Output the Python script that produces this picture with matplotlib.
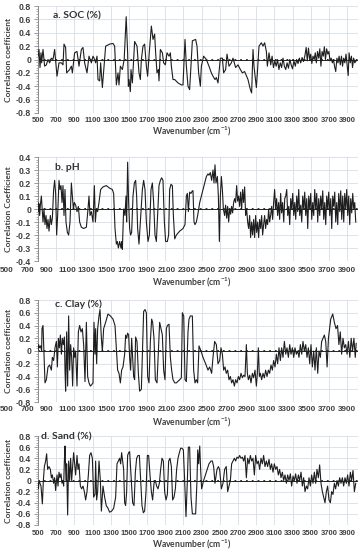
import matplotlib.pyplot as plt
from matplotlib.ticker import MultipleLocator, AutoMinorLocator, FuncFormatter

# wavenumber (cm-1) / correlation coefficient
soc_wn = [500, 511, 522, 533, 540, 555, 573, 592, 610, 628, 647, 665, 683, 709, 731, 757, 775, 786, 804, 815,
          848, 867, 878, 903, 929, 951, 977, 995, 1013, 1039, 1061, 1087, 1105, 1123, 1134, 1149, 1160, 1178, 1189, 1208,
          1244, 1288, 1325, 1343, 1362, 1380, 1391, 1406, 1428, 1448, 1470, 1486, 1494, 1501, 1516, 1523, 1538, 1563, 1589, 1611,
          1626, 1637, 1655, 1673, 1692, 1706, 1721, 1747, 1765, 1783, 1794, 1809, 1824, 1831, 1846, 1868, 1882, 1901, 1919, 1941,
          1956, 1967, 1985, 2004, 2040, 2077, 2095, 2117, 2132, 2150, 2168, 2198, 2234, 2249, 2267, 2286, 2297, 2322, 2352, 2381,
          2407, 2425, 2447, 2462, 2480, 2506, 2528, 2542, 2564, 2579, 2601, 2627, 2645, 2674, 2700, 2726, 2748, 2773, 2810, 2836,
          2850, 2865, 2876, 2902, 2913, 2931, 2957, 2975, 2993, 3012, 3023, 3041, 3060, 3075, 3090, 3105, 3120, 3135, 3150, 3165,
          3180, 3195, 3210, 3225, 3240, 3255, 3270, 3285, 3300, 3315, 3330, 3345, 3360, 3375, 3390, 3405, 3420, 3435, 3450, 3462,
          3475, 3488, 3500, 3512, 3525, 3538, 3550, 3562, 3575, 3588, 3600, 3612, 3625, 3638, 3650, 3662, 3675, 3688, 3700, 3712,
          3725, 3738, 3750, 3762, 3775, 3788, 3800, 3812, 3825, 3838, 3850, 3862, 3875, 3888, 3900, 3912, 3922, 3935, 3948, 3960,
          3972, 3985, 4000]
soc_r = [0.05, 0.15, -0.12, 0.10, -0.05, 0.15, -0.10, -0.08, 0.00, -0.05, 0.02, 0.00, 0.15, -0.25, -0.05, -0.05, -0.08, 0.23, 0.18, -0.20,
         -0.15, -0.10, -0.20, 0.10, 0.12, -0.10, 0.15, 0.18, -0.05, -0.20, 0.05, -0.05, 0.05, 0.00, -0.05, 0.05, -0.30, -0.32, -0.05, -0.42,
         0.20, 0.23, 0.24, 0.20, -0.38, -0.20, -0.38, -0.10, -0.15, 0.00, 0.64, 0.10, -0.40, -0.30, -0.48, -0.15, -0.35, 0.27, 0.20, -0.20,
         -0.30, 0.00, 0.20, 0.23, -0.10, -0.25, 0.05, 0.50, 0.30, 0.38, 0.10, -0.20, -0.15, -0.32, 0.15, 0.10, -0.05, -0.08, 0.10, 0.05,
         0.10, -0.10, -0.30, -0.30, -0.35, -0.38, -0.38, 0.30, -0.10, -0.40, -0.45, 0.28, 0.30, 0.20, -0.20, -0.40, -0.10, 0.05, 0.00, -0.10,
         -0.20, -0.25, -0.30, -0.27, -0.35, 0.02, 0.02, -0.20, -0.15, 0.08, -0.10, -0.05, 0.02, -0.12, -0.08, -0.15, -0.20, -0.18, -0.30, -0.45,
         -0.50, 0.15, -0.10, -0.42, -0.20, 0.20, 0.25, 0.20, 0.25, 0.12, -0.10, 0.10, -0.08, 0.05, -0.12, -0.02, -0.10, 0.00, -0.15, -0.05,
         -0.12, 0.02, -0.10, -0.15, -0.05, -0.13, 0.00, -0.08, -0.14, -0.02, -0.10, 0.00, -0.06, 0.02, -0.05, 0.03, -0.03, 0.05, 0.18, -0.02,
         0.17, 0.00, 0.08, -0.06, 0.05, 0.00, 0.10, -0.05, 0.12, 0.02, 0.16, -0.10, 0.12, 0.05, 0.19, 0.00, 0.16, 0.08, 0.12, -0.02,
         0.02, -0.05, 0.00, -0.10, -0.18, 0.02, -0.05, 0.05, -0.08, 0.05, -0.10, 0.02, -0.05, 0.08, -0.08, -0.24, 0.10, -0.05, 0.05, -0.12,
         0.02, -0.05, -0.02]

ph_wn = [500, 505, 511, 518, 526, 537, 548, 555, 566, 577, 588, 599, 610, 621, 636, 647, 658, 672, 683, 694,
         705, 716, 731, 742, 753, 764, 775, 786, 797, 808, 823, 837, 852, 867, 878, 889, 900, 914, 929, 944,
         958, 977, 1002, 1032, 1050, 1061, 1072, 1087, 1105, 1120, 1131, 1142, 1156, 1171, 1189, 1215, 1251, 1288, 1318, 1332,
         1347, 1362, 1373, 1384, 1398, 1413, 1420, 1428, 1442, 1457, 1468, 1475, 1486, 1497, 1508, 1519, 1530, 1545, 1560, 1574,
         1585, 1596, 1611, 1626, 1648, 1662, 1677, 1692, 1710, 1725, 1743, 1758, 1772, 1787, 1802, 1816, 1831, 1846, 1860, 1875,
         1890, 1904, 1923, 1937, 1948, 1963, 1978, 1989, 2004, 2022, 2059, 2095, 2117, 2132, 2143, 2154, 2168, 2183, 2198, 2205,
         2216, 2227, 2242, 2256, 2279, 2315, 2352, 2370, 2381, 2396, 2410, 2425, 2436, 2447, 2458, 2473, 2484, 2495, 2506, 2517,
         2528, 2539, 2553, 2564, 2575, 2586, 2597, 2608, 2619, 2630, 2641, 2652, 2663, 2674, 2685, 2696, 2707, 2718, 2729, 2740,
         2751, 2762, 2773, 2784, 2795, 2806, 2817, 2828, 2839, 2850, 2861, 2872, 2883, 2894, 2905, 2916, 2927, 2938, 2949, 2960,
         2971, 2982, 2993, 3004, 3015, 3026, 3037, 3048, 3059, 3070, 3081, 3092, 3103, 3114, 3125, 3136, 3147, 3158, 3169, 3180,
         3191, 3203, 3214, 3225, 3236, 3247, 3258, 3269, 3280, 3291, 3302, 3313, 3324, 3335, 3346, 3357, 3368, 3379, 3390, 3401,
         3412, 3423, 3434, 3445, 3456, 3467, 3478, 3489, 3500, 3511, 3522, 3533, 3544, 3555, 3566, 3577, 3588, 3599, 3610, 3621,
         3632, 3643, 3654, 3665, 3676, 3687, 3698, 3709, 3720, 3731, 3742, 3753, 3764, 3775, 3786, 3797, 3808, 3819, 3830, 3841,
         3852, 3863, 3874, 3885, 3896, 3907, 3918, 3929, 3940, 3951, 3962, 3973, 3984, 3995]
ph_r = [0.05, -0.02, 0.04, -0.05, 0.03, 0.10, -0.03, -0.10, 0.00, -0.12, -0.05, -0.15, -0.08, -0.17, -0.05, -0.12, -0.07, 0.15, 0.22, 0.12,
        -0.20, -0.05, 0.22, 0.15, 0.18, 0.05, 0.18, -0.05, 0.15, -0.10, -0.18, -0.20, -0.10, 0.20, 0.10, 0.00, 0.05, 0.03, -0.02, 0.02,
        -0.10, -0.14, -0.15, -0.14, 0.00, 0.10, -0.05, -0.02, -0.10, 0.18, -0.10, 0.00, -0.02, 0.05, 0.15, 0.17, 0.18, 0.16, 0.15, 0.12,
        -0.15, -0.27, -0.25, -0.30, -0.25, -0.30, -0.25, -0.31, 0.00, -0.05, 0.10, -0.10, 0.36, 0.05, -0.15, -0.20, -0.18, 0.10, 0.20, 0.22,
        0.10, -0.15, -0.27, -0.10, 0.15, 0.22, 0.15, -0.10, -0.25, -0.20, 0.15, 0.20, 0.05, -0.20, -0.25, -0.05, 0.18, 0.22, 0.24, 0.22,
        -0.10, -0.25, -0.25, -0.20, 0.15, 0.19, 0.18, -0.05, -0.23, -0.20, -0.17, -0.15, -0.12, 0.10, 0.12, -0.02, 0.13, 0.12, 0.14, 0.14,
        -0.10, -0.12, -0.10, -0.05, 0.05, 0.15, 0.25, 0.27, 0.26, 0.28, 0.22, 0.30, 0.20, 0.34, 0.20, 0.25, 0.10, -0.25, 0.10, 0.25,
        0.15, 0.00, -0.05, 0.03, -0.07, 0.02, -0.10, 0.00, -0.04, 0.02, -0.03, 0.05, 0.08, 0.05, 0.18, 0.06, 0.10, 0.02, 0.13, 0.00,
        0.15, 0.05, 0.17, -0.05, 0.00, -0.10, -0.15, -0.05, -0.22, -0.10, -0.20, -0.08, -0.22, -0.05, -0.18, -0.10, -0.22, -0.08, -0.15, -0.05,
        -0.20, -0.12, -0.05, -0.15, -0.08, -0.12, 0.00, -0.10, -0.05, 0.02, -0.08, 0.05, 0.15, 0.00, 0.08, -0.05, 0.05, -0.08, 0.12, -0.03,
        0.05, -0.10, 0.08, 0.10, 0.15, -0.05, 0.02, -0.12, 0.08, 0.00, 0.12, -0.05, 0.05, -0.08, 0.10, -0.02, 0.15, -0.05, 0.03, -0.10,
        0.10, 0.00, 0.13, -0.05, 0.08, -0.15, 0.10, 0.00, 0.12, -0.08, 0.05, -0.05, 0.15, 0.00, 0.12, -0.10, 0.08, -0.05, 0.10, 0.00,
        0.14, -0.08, 0.05, -0.12, 0.10, 0.00, 0.13, -0.05, 0.08, -0.15, 0.10, 0.02, 0.13, -0.10, 0.05, -0.12, 0.12, -0.02, 0.14, -0.08,
        0.10, -0.10, 0.12, 0.00, 0.15, -0.05, 0.10, -0.12, 0.08, -0.03, 0.12, 0.00, 0.05, -0.10]

clay_wn = [500, 507, 518, 529, 540, 544, 555, 566, 577, 592, 610, 628, 647, 658, 672, 687, 702, 713, 724, 735,
           746, 757, 768, 779, 790, 797, 804, 815, 826, 837, 848, 859, 870, 881, 892, 903, 914, 929, 944, 958,
           973, 988, 1002, 1017, 1032, 1046, 1061, 1076, 1090, 1105, 1116, 1127, 1134, 1145, 1156, 1171, 1182, 1197, 1208, 1222,
           1244, 1270, 1296, 1325, 1347, 1362, 1376, 1391, 1406, 1420, 1435, 1453, 1464, 1475, 1486, 1497, 1508, 1519, 1530, 1541,
           1552, 1563, 1574, 1589, 1604, 1618, 1637, 1648, 1662, 1677, 1692, 1706, 1721, 1736, 1750, 1761, 1776, 1791, 1809, 1824,
           1838, 1853, 1868, 1882, 1897, 1912, 1923, 1941, 1956, 1970, 1985, 2004, 2022, 2059, 2077, 2088, 2103, 2117, 2132, 2150,
           2161, 2176, 2198, 2212, 2227, 2242, 2256, 2271, 2293, 2315, 2344, 2370, 2388, 2410, 2425, 2443, 2462, 2480, 2498, 2513,
           2528, 2542, 2557, 2571, 2586, 2601, 2616, 2630, 2645, 2660, 2674, 2689, 2704, 2718, 2733, 2748, 2762, 2777, 2792, 2803,
           2814, 2829, 2843, 2858, 2872, 2887, 2902, 2913, 2924, 2935, 2946, 2960, 2975, 2990, 3004, 3019, 3034, 3048, 3063, 3078,
           3092, 3107, 3122, 3136, 3151, 3166, 3180, 3195, 3210, 3225, 3239, 3254, 3269, 3283, 3298, 3313, 3327, 3342, 3357, 3371,
           3386, 3401, 3415, 3430, 3445, 3459, 3474, 3489, 3503, 3518, 3533, 3547, 3562, 3577, 3591, 3606, 3620, 3635, 3650, 3665,
           3680, 3695, 3720, 3742, 3760, 3778, 3795, 3810, 3825, 3840, 3855, 3870, 3885, 3900, 3915, 3930, 3945, 3960, 3975, 3990,
           4000]
clay_r = [0.00, 0.10, 0.05, 0.08, 0.00, 0.35, 0.40, -0.05, -0.50, -0.45, -0.25, -0.22, -0.30, -0.10, -0.15, 0.05, 0.15, -0.25, 0.20, 0.05,
          0.25, -0.05, 0.20, 0.10, 0.22, -0.30, -0.63, 0.30, -0.55, 0.55, -0.30, 0.10, -0.10, -0.55, 0.05, -0.10, 0.00, -0.55, 0.30, 0.40,
          0.30, 0.35, 0.10, -0.48, 0.45, -0.40, -0.50, -0.55, -0.53, -0.50, 0.45, -0.05, 0.35, -0.20, 0.35, 0.55, 0.65, 0.20, 0.00, 0.35,
          0.45, 0.58, 0.55, 0.50, 0.40, 0.05, -0.30, -0.35, -0.50, -0.30, -0.25, -0.05, 0.25, 0.20, 0.28, 0.25, -0.10, -0.30, 0.20, -0.10,
          -0.40, -0.45, 0.22, 0.15, -0.35, -0.63, -0.60, -0.05, 0.62, 0.65, 0.60, -0.40, -0.50, 0.15, 0.50, 0.45, 0.20, -0.45, -0.50, 0.00,
          0.45, 0.35, 0.25, -0.30, -0.45, 0.35, 0.40, 0.42, -0.10, -0.30, -0.45, -0.50, -0.50, -0.45, -0.42, 0.60, 0.55, -0.45, -0.48, 0.30,
          0.50, 0.55, 0.55, -0.30, -0.50, -0.45, -0.50, 0.08, 0.00, -0.10, -0.20, -0.30, -0.25, -0.35, -0.10, 0.15, 0.10, -0.20, -0.15, 0.05,
          -0.05, -0.30, -0.25, -0.35, -0.30, -0.45, -0.40, -0.50, -0.45, -0.55, -0.45, -0.50, -0.40, -0.45, -0.35, -0.42, -0.38, -0.40, 0.10, -0.35,
          -0.45, -0.38, -0.50, -0.35, -0.42, -0.30, -0.55, -0.35, 0.05, -0.40, -0.35, -0.45, -0.35, -0.42, -0.30, -0.40, -0.30, -0.35, -0.22, -0.30,
          -0.15, -0.25, -0.05, -0.20, 0.05, -0.15, 0.05, -0.10, 0.15, -0.05, 0.05, -0.10, 0.10, -0.05, 0.05, -0.10, 0.05, -0.05, 0.00, -0.10,
          0.10, -0.05, 0.15, 0.00, 0.10, -0.10, 0.05, -0.20, 0.10, -0.25, 0.00, -0.30, 0.05, -0.35, 0.00, -0.10, 0.15, 0.20, 0.25, 0.15,
          -0.25, 0.20, 0.50, 0.58, 0.45, 0.35, 0.40, 0.10, 0.30, -0.05, 0.20, 0.05, 0.10, -0.05, 0.15, -0.10, 0.20, 0.00, 0.20, -0.10,
          0.12]

sand_wn = [500, 505, 511, 522, 533, 548, 559, 570, 584, 595, 606, 621, 636, 647, 658, 672, 683, 694, 709, 720,
           731, 742, 753, 764, 775, 782, 790, 797, 808, 815, 826, 837, 848, 859, 870, 881, 892, 903, 914, 929,
           940, 951, 966, 980, 995, 1010, 1024, 1039, 1054, 1068, 1083, 1098, 1112, 1127, 1134, 1145, 1156, 1171, 1186, 1197,
           1215, 1233, 1251, 1270, 1288, 1310, 1332, 1354, 1369, 1384, 1398, 1409, 1420, 1431, 1442, 1453, 1464, 1475, 1486, 1497,
           1508, 1519, 1530, 1541, 1556, 1571, 1585, 1600, 1615, 1629, 1644, 1659, 1673, 1688, 1703, 1717, 1732, 1747, 1761, 1776,
           1791, 1805, 1820, 1835, 1849, 1864, 1879, 1893, 1908, 1923, 1937, 1952, 1967, 1981, 1996, 2011, 2025, 2040, 2055, 2069,
           2084, 2099, 2113, 2128, 2143, 2154, 2168, 2183, 2198, 2216, 2234, 2249, 2257, 2267, 2279, 2289, 2300, 2322, 2352, 2381,
           2403, 2418, 2432, 2447, 2469, 2484, 2498, 2517, 2535, 2553, 2571, 2586, 2601, 2616, 2630, 2645, 2660, 2674, 2689, 2704,
           2718, 2733, 2748, 2762, 2777, 2792, 2806, 2821, 2836, 2850, 2865, 2880, 2894, 2909, 2924, 2938, 2953, 2968, 2982, 2997,
           3012, 3026, 3041, 3056, 3070, 3085, 3100, 3114, 3129, 3144, 3158, 3173, 3188, 3202, 3217, 3232, 3246, 3261, 3276, 3290,
           3305, 3320, 3334, 3349, 3364, 3378, 3393, 3408, 3422, 3437, 3452, 3466, 3481, 3496, 3510, 3525, 3540, 3554, 3569, 3584,
           3598, 3613, 3628, 3642, 3657, 3672, 3686, 3701, 3716, 3730, 3745, 3760, 3774, 3789, 3804, 3818, 3833, 3848, 3862, 3877,
           3892, 3906, 3921, 3936, 3950, 3965, 3980, 3995]
sand_r = [-0.05, -0.15, 0.00, -0.05, -0.10, -0.42, 0.00, 0.25, 0.35, 0.48, 0.20, 0.25, 0.20, 0.05, 0.10, -0.05, 0.05, -0.18, 0.10, -0.10,
          0.15, 0.05, 0.12, -0.05, 0.00, -0.10, 0.35, 0.62, 0.00, 0.30, -0.62, 0.35, 0.00, 0.40, 0.00, 0.25, 0.50, 0.30, 0.10, 0.45,
          0.20, 0.30, -0.10, -0.15, -0.10, -0.20, -0.35, -0.20, 0.10, 0.45, 0.50, 0.40, -0.30, -0.25, 0.35, -0.35, -0.20, 0.35, 0.00, -0.55,
          -0.10, -0.30, -0.45, -0.50, -0.57, -0.55, -0.50, -0.30, 0.30, 0.35, 0.40, 0.30, 0.50, 0.35, 0.20, -0.40, -0.45, -0.20, 0.45, 0.50,
          0.52, 0.20, -0.10, -0.40, -0.45, 0.15, 0.40, 0.45, 0.45, 0.00, -0.45, -0.58, -0.55, -0.20, 0.45, 0.45, 0.10, -0.20, -0.35, -0.05,
          0.00, -0.10, -0.15, -0.05, 0.20, 0.40, 0.35, -0.20, -0.35, -0.25, 0.35, 0.40, 0.25, -0.35, -0.30, -0.15, 0.20, 0.40, 0.50, 0.58,
          0.58, 0.55, 0.00, -0.65, 0.00, 0.60, 0.60, -0.30, -0.60, -0.60, -0.60, 0.00, 0.55, 0.30, 0.62, 0.20, -0.15, 0.00, 0.15, 0.30,
          0.35, 0.35, 0.25, -0.05, 0.20, 0.25, 0.20, -0.15, -0.05, 0.20, 0.25, -0.20, -0.10, 0.00, 0.30, 0.35, 0.40, 0.35, 0.42, 0.40,
          0.45, 0.40, 0.42, 0.35, 0.45, 0.05, 0.40, 0.30, 0.45, 0.35, 0.40, 0.10, 0.45, 0.30, 0.35, 0.20, 0.40, 0.30, 0.45, 0.25,
          0.35, 0.25, 0.38, 0.20, 0.30, 0.15, 0.30, 0.20, 0.25, 0.10, 0.20, 0.05, 0.15, 0.00, 0.10, -0.05, 0.10, 0.00, 0.12, -0.10,
          0.08, 0.00, 0.12, -0.05, 0.10, 0.00, 0.15, -0.10, 0.05, -0.20, -0.10, -0.15, 0.05, -0.10, 0.10, -0.05, 0.15, -0.05, 0.20, 0.05,
          0.28, -0.05, -0.20, -0.30, -0.40, -0.20, -0.10, -0.35, -0.40, -0.20, -0.25, -0.05, -0.15, 0.00, -0.10, 0.05, -0.05, 0.05, -0.10, 0.05,
          -0.05, 0.10, -0.10, 0.15, 0.00, 0.18, -0.20, -0.05]

xtick_vals = list(range(500, 4000, 200))
panel_titles = ['a. SOC (%)', 'b. pH', 'c. Clay (%)', 'd. Sand (%)']
panel_ylabels = ['Correlation coefficient', 'Correlation Coefficient',
                 'Correlation coefficient', 'Correlation coefficient']

plt.rcParams['font.family'] = ['Lato', 'DejaVu Sans']
plt.rcParams['mathtext.default'] = 'regular'
plt.rcParams['axes.unicode_minus'] = False

TXT = '#404040'
GRID = '#d6dee9'
TICK_FONT = ['Liberation Sans Narrow', 'Liberation Sans', 'DejaVu Sans']
W, H = 362, 550


def fmt(v, pos):
    v = round(v, 2)
    return '0' if v == 0 else f'{v:g}'


def style_ticklabels(labels, size):
    for lab in labels:
        lab.set_family(TICK_FONT)
        lab.set_fontweight('bold')
        lab.set_fontsize(size)
        lab.set_color(TXT)


def draw_panel(top, bottom, wn, r, ylim, ystep, title, ylabel, title_pos, wide_labels, tick_pad, xlab_y):
    left, right = 38, 358
    rect = [left / W, 1 - bottom / H, (right - left) / W, (bottom - top) / H]
    ax = fig.add_axes(rect)
    ax.set_xlim(500, 4020)
    ax.set_ylim(-ylim, ylim)
    ax.set_xticks(xtick_vals)
    ax.yaxis.set_major_locator(MultipleLocator(ystep))
    ax.yaxis.set_minor_locator(AutoMinorLocator(5))
    ax.yaxis.set_major_formatter(FuncFormatter(fmt))
    ax.grid(True, color=GRID, lw=0.6)
    ax.set_axisbelow(True)
    for s in ['top', 'right', 'bottom']:
        ax.spines[s].set_visible(False)
    ax.spines['left'].set_color('#8a8a8a')
    ax.spines['left'].set_linewidth(0.7)
    ax.tick_params(axis='y', which='major', length=3, width=0.6, color='#8a8a8a', pad=2)
    ax.tick_params(axis='y', which='minor', length=1.8, width=0.5, color='#8a8a8a')
    ax.tick_params(axis='x', length=0, pad=tick_pad)
    style_ticklabels(ax.get_yticklabels(), 6.3)

    ax.axhline(0, color='#222222', lw=0.7, zorder=2)
    ax.axhline(0, color='#222222', lw=1.3, ls=(0, (1, 2.2)), zorder=2)
    ax.plot(wn, r, color='#1e1e1e', lw=0.8, zorder=3)

    if wide_labels:
        # in panels b and c the wavenumber labels run wider than the plot area
        ax.set_xticklabels([])
        lab_ax = fig.add_axes([7 / W, rect[1], 340 / W, rect[3]], zorder=-1)
        lab_ax.set_xlim(500, 3900)
        lab_ax.set_xticks(xtick_vals)
        lab_ax.set_yticks([])
        lab_ax.patch.set_visible(False)
        for s in lab_ax.spines.values():
            s.set_visible(False)
        lab_ax.tick_params(axis='x', length=0, pad=tick_pad)
        style_ticklabels(lab_ax.get_xticklabels(), 5.8)
    else:
        style_ticklabels(ax.get_xticklabels(), 5.5)

    ax.set_xlabel(r'Wavenumber (cm$^{-1}$)', fontsize=6.2, fontweight='bold', color=TXT, va='center')
    ax.xaxis.set_label_coords(0.48, (bottom - xlab_y) / (bottom - top))
    ax.set_ylabel(ylabel, fontsize=6, fontweight='bold', color=TXT)
    ax.yaxis.set_label_coords((12 - left) / (right - left), 0.5)
    ax.text(title_pos[0], title_pos[1], title, transform=ax.transAxes, fontsize=7.5,
            fontweight='bold', color='#333333', va='center', ha='left', zorder=4)
    return ax


fig = plt.figure(figsize=(W / 100, H / 100), dpi=100)

draw_panel(6, 113, soc_wn, soc_r, 0.8, 0.2, panel_titles[0], panel_ylabels[0], (0.047, 0.91), False, 3.2, 131)
draw_panel(157, 261, ph_wn, ph_r, 0.4, 0.1, panel_titles[1], panel_ylabels[1], (0.053, 0.895), True, 4.3, 282)
draw_panel(300, 402, clay_wn, clay_r, 0.8, 0.2, panel_titles[2], panel_ylabels[2], (0.053, 0.955), True, 3.0, 422)
draw_panel(436, 525, sand_wn, sand_r, 0.8, 0.2, panel_titles[3], panel_ylabels[3], (0.01, 0.985), False, 3.7, 544)

fig.savefig('out.png', dpi=100)
